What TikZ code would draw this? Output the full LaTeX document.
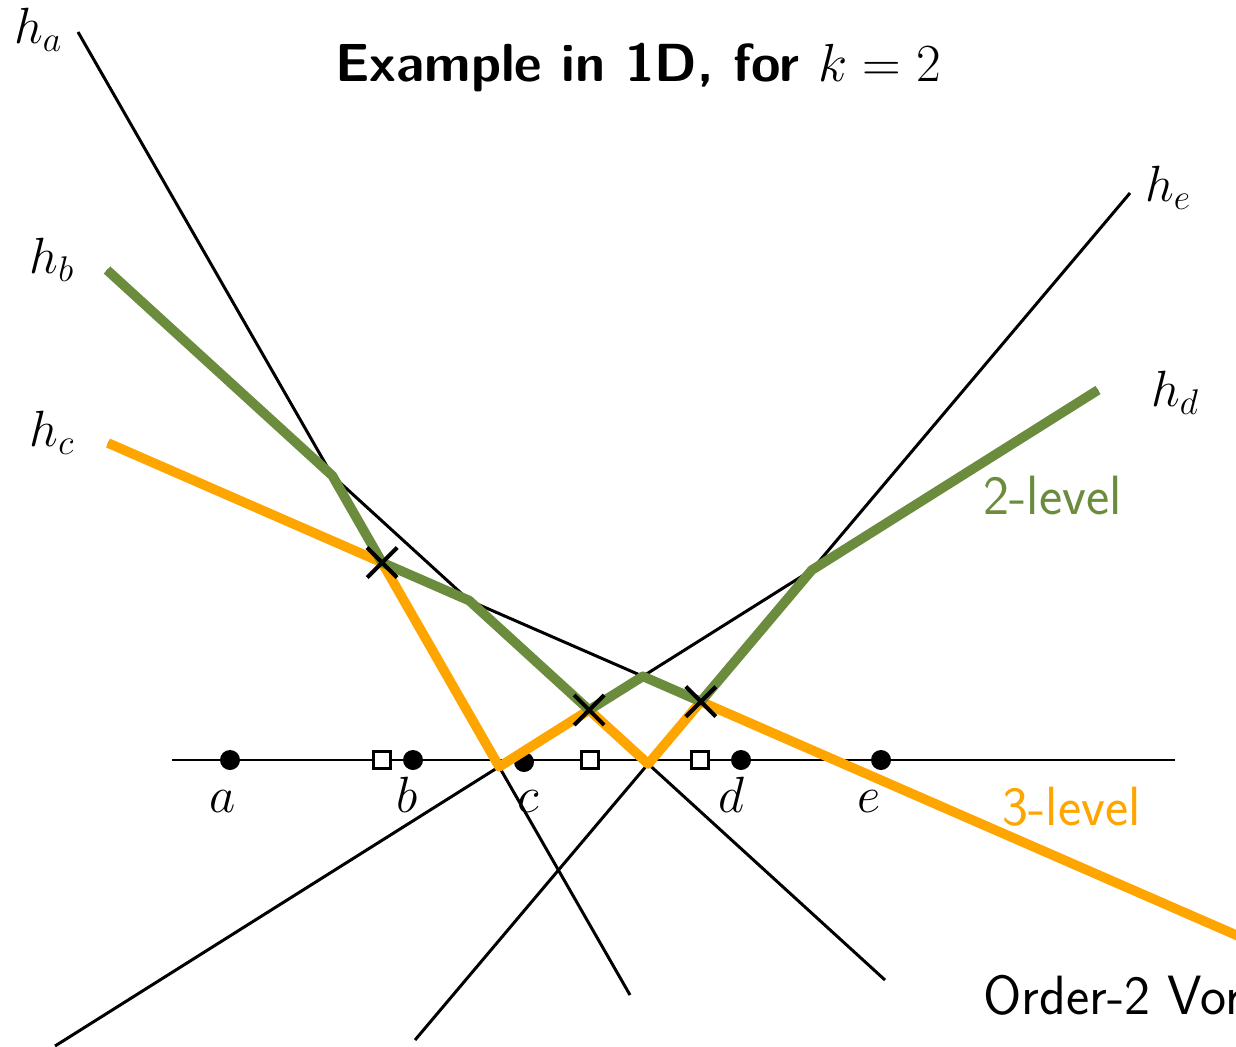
\RequirePackage{fix-cm}
\documentclass[tikz,border=0pt]{standalone}
\usetikzlibrary{shapes.misc}
\definecolor{lvgreen}{RGB}{107,139,61}
\definecolor{lvorange}{RGB}{255,165,0}
\tikzset{
  hline/.style={draw=black, line width=1.7pt},
  greenlvl/.style={draw=lvgreen, line width=5.5pt, line join=round},
  orangelvl/.style={draw=lvorange, line width=5.5pt, line join=round},
  axisline/.style={draw=black, line width=1.5pt},
  site/.style={circle, fill=black, minimum size=0.4cm, inner sep=0pt},
  mid/.style={rectangle, draw=black, fill=white, line width=1.4pt, minimum size=0.34cm, inner sep=0pt},
  vtx/.style={cross out, draw=black, line width=2.3pt, minimum size=0.52cm, inner sep=0pt},
  mlabel/.style={font=\fontsize{29}{34}\selectfont, inner sep=0pt},
  slabel/.style={font=\fontsize{31.5}{38}\selectfont\sffamily, inner sep=0pt, anchor=base west},
}
\begin{document}
\begin{tikzpicture}[x=0.02cm,y=-0.02cm]
\useasboundingbox (0,0) rectangle (1236,1046);
\clip (0,0) rectangle (1236,1046);
% line end points
\coordinate (ha1) at (78,32);   \coordinate (ha2) at (630,995);
\coordinate (hb1) at (107,270); \coordinate (hb2) at (885,980);
\coordinate (hc1) at (108,443); \coordinate (hc2) at (1300,962.9);
\coordinate (hd1) at (55,1046); \coordinate (hd2) at (1098,390);
\coordinate (he1) at (415,1040);\coordinate (he2) at (1130,193);
% intersections
\coordinate (ab) at (intersection of ha1--ha2 and hb1--hb2);
\coordinate (ac) at (intersection of ha1--ha2 and hc1--hc2);
\coordinate (ad) at (intersection of ha1--ha2 and hd1--hd2);
\coordinate (bc) at (intersection of hb1--hb2 and hc1--hc2);
\coordinate (bd) at (intersection of hb1--hb2 and hd1--hd2);
\coordinate (be) at (intersection of hb1--hb2 and he1--he2);
\coordinate (cd) at (intersection of hc1--hc2 and hd1--hd2);
\coordinate (ce) at (intersection of hc1--hc2 and he1--he2);
\coordinate (de) at (intersection of hd1--hd2 and he1--he2);
% axis
\coordinate (ax1) at (172,760); \coordinate (ax2) at (1175,760);
\draw[axisline] (ax1) -- (ax2);
% sites and midpoints
\node[site] (pa) at (230,760) {};
\node[site] (pb) at (413,760) {};
\node[site] (pc) at (524,762) {};
\node[site] (pd) at (741,760) {};
\node[site] (pe) at (881,760) {};
\node[mid] (mac) at (382,760) {};
\node[mid] (mbd) at (590,760) {};
\node[mid] (mce) at (700,760) {};
% site labels
\node[mlabel, anchor=base] (la) at (223,812) {$a$};
\node[mlabel, anchor=base] (lb) at (407,812) {$b$};
\node[mlabel, anchor=base] (lc) at (528,812) {$c$};
\node[mlabel, anchor=base] (ld) at (731,812) {$d$};
\node[mlabel, anchor=base] (le) at (869,812) {$e$};
% lines
\draw[hline] (ha1) -- (ha2);
\draw[hline] (hb1) -- (hb2);
\draw[hline] (hc1) -- (hc2);
\draw[hline] (hd1) -- (hd2);
\draw[hline] (he1) -- (he2);
% levels
\draw[orangelvl] (hc1) -- (ac) -- (ad) -- (bd) -- (be) -- (ce) -- (hc2);
\draw[greenlvl] (hb1) -- (ab) -- (ac) -- (bc) -- (bd) -- (cd) -- (ce) -- (de) -- (hd2);
% vertices
\node[vtx] (x1) at (ac) {};
\node[vtx] (x2) at (bd) {};
\node[vtx] (x3) at (ce) {};
% line labels
\node[mlabel] (lha) at (38,30) {$h_a$};
\node[mlabel] (lhb) at (52,260) {$h_b$};
\node[mlabel] (lhc) at (52,433) {$h_c$};
\node[mlabel] (lhd) at (1175,393) {$h_d$};
\node[mlabel] (lhe) at (1168,188) {$h_e$};
% texts
\node[font=\fontsize{30.5}{37}\selectfont\sffamily\bfseries, inner sep=0pt, anchor=base] (title) at (638,81) {Example in 1D, for $k=2$};
\node[slabel, text=lvgreen] (t2) at (983,514) {2-level};
\node[slabel, text=lvorange] (t3) at (1002,825) {3-level};
\node[slabel] (tv) at (983,1014) {Order-2 Voronoi};
\end{tikzpicture}
\end{document}
